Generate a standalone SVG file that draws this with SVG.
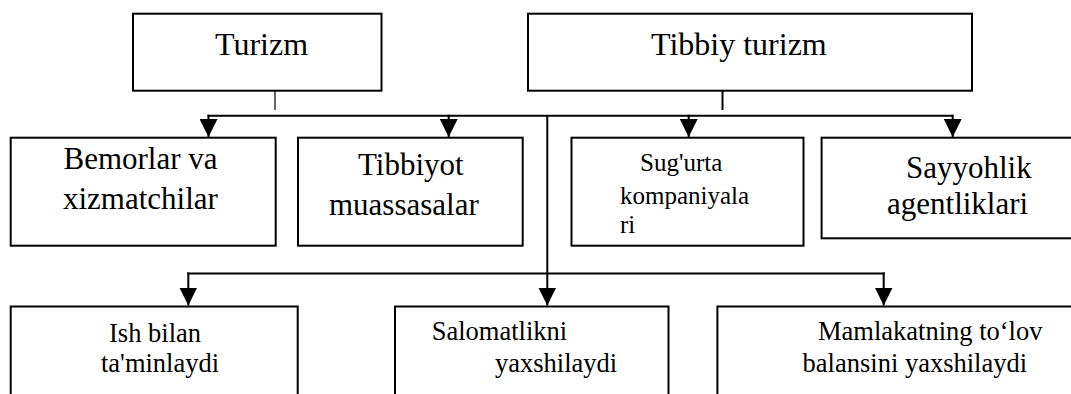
<svg xmlns="http://www.w3.org/2000/svg" width="1071" height="394" viewBox="0 0 1071 394" font-family="'Liberation Serif', 'Times New Roman', Tinos, 'DejaVu Serif', serif">
<style>
.box{fill:#fff;stroke:#000;stroke-width:2}
.ln{fill:none;stroke:#000;stroke-width:2}
.thin{fill:none;stroke:#000;stroke-width:1.2}
.lbl{font-family:'Liberation Serif','Times New Roman',Tinos,'DejaVu Serif',serif;fill:#000}
.t1{font-size:32px}
.t2{font-size:31px}
.t3{font-size:25px}
.t4{font-size:26.5px}
</style>
<defs>
<marker id="ah" markerUnits="userSpaceOnUse" markerWidth="18" markerHeight="18" viewBox="0 0 16 16" refX="16" refY="8" orient="auto">
<path d="M0,0 L16,8 L0,16 Z" fill="#000"/>
</marker>
</defs>
<rect width="1071" height="394" fill="#fff"/>
<g id="connectors">
<line class="thin" x1="275" y1="87" x2="275" y2="110"/>
<line class="ln" x1="722.5" y1="91" x2="722.5" y2="110"/>
<line class="ln" x1="207.5" y1="115.7" x2="952.7" y2="115.7"/>
<line class="ln" x1="208.5" y1="114.7" x2="208.5" y2="137" marker-end="url(#ah)"/>
<line class="ln" x1="448.7" y1="114.7" x2="448.7" y2="137" marker-end="url(#ah)"/>
<line class="ln" x1="688.7" y1="114.7" x2="688.7" y2="137" marker-end="url(#ah)"/>
<line class="ln" x1="952.7" y1="114.7" x2="952.7" y2="137" marker-end="url(#ah)"/>
<line class="ln" x1="547.3" y1="115.7" x2="547.3" y2="305.5" marker-end="url(#ah)"/>
<line class="ln" x1="187.3" y1="273.5" x2="884.7" y2="273.5"/>
<line class="ln" x1="188.3" y1="272.5" x2="188.3" y2="305.5" marker-end="url(#ah)"/>
<line class="ln" x1="883.7" y1="272.5" x2="883.7" y2="305.5" marker-end="url(#ah)"/>
</g>
<g id="turizm">
<rect class="box" x="133" y="13.7" width="248.5" height="77"/>
<text class="lbl t1" x="215" y="55">Turizm</text>
</g>
<g id="tibbiy-turizm">
<rect class="box" x="528" y="13.7" width="444" height="77"/>
<text class="lbl t1" x="651" y="55">Tibbiy turizm</text>
</g>
<g id="bemorlar">
<rect class="box" x="10.7" y="137.7" width="265" height="108"/>
<text class="lbl t2" x="63.5" y="168.5">Bemorlar va</text>
<text class="lbl t2" x="63" y="208.5">xizmatchilar</text>
</g>
<g id="tibbiyot">
<rect class="box" x="298" y="137.7" width="224.7" height="108"/>
<text class="lbl t2" x="358" y="175">Tibbiyot</text>
<text class="lbl t2" x="329" y="215">muassasalar</text>
</g>
<g id="sugurta">
<rect class="box" x="571.5" y="137.7" width="232" height="108"/>
<text class="lbl t3" x="640" y="171">Sug'urta</text>
<text class="lbl t3" x="620" y="204">kompaniyala</text>
<text class="lbl t3" x="620" y="233">ri</text>
</g>
<g id="sayyohlik">
<rect class="box" x="821.6" y="137.7" width="260" height="100.6"/>
<text class="lbl t2" x="906" y="178">Sayyohlik</text>
<text class="lbl t2" x="887" y="214">agentliklari</text>
</g>
<g id="ish">
<rect class="box" x="10.7" y="306.5" width="287" height="100"/>
<text class="lbl t4" x="109" y="341.5">Ish bilan</text>
<text class="lbl t4" x="101" y="371.7">ta'minlaydi</text>
</g>
<g id="salomatlik">
<rect class="box" x="395" y="306.5" width="273.5" height="100"/>
<text class="lbl t4" x="431.7" y="340">Salomatlikni</text>
<text class="lbl t4" x="495" y="371.7">yaxshilaydi</text>
</g>
<g id="mamlakat">
<rect class="box" x="717.4" y="306.5" width="370" height="100"/>
<text class="lbl t4" x="818" y="340">Mamlakatning to‘lov</text>
<text class="lbl t4" x="802.6" y="371.7">balansini yaxshilaydi</text>
</g>
</svg>
